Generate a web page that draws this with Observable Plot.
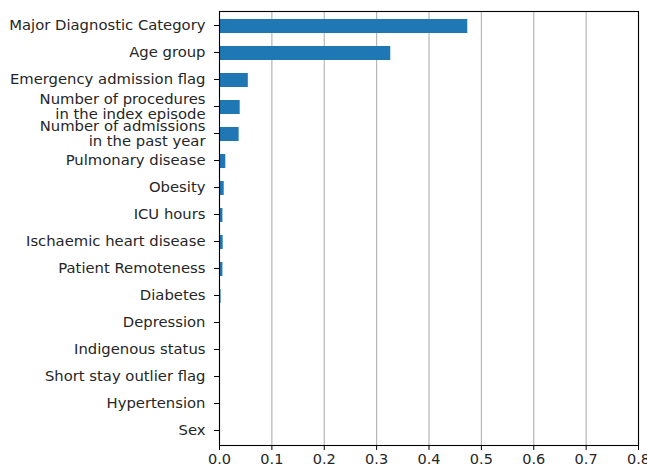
<!DOCTYPE html>
<html>
<head>
<meta charset="utf-8">
<script src="https://cdn.jsdelivr.net/npm/d3@7"></script>
<script src="https://cdn.jsdelivr.net/npm/@observablehq/plot@0.6"></script>
<style>
  html, body { margin: 0; padding: 0; background: #fff; }
  #chart svg { display: block; }
</style>
</head>
<body>
<div id="chart"></div>
<script>
const features = [
  "Major Diagnostic Category",
  "Age group",
  "Emergency admission flag",
  "Number of procedures\nin the index episode",
  "Number of admissions\nin the past year",
  "Pulmonary disease",
  "Obesity",
  "ICU hours",
  "Ischaemic heart disease",
  "Patient Remoteness",
  "Diabetes",
  "Depression",
  "Indigenous status",
  "Short stay outlier flag",
  "Hypertension",
  "Sex"
];
const importance = [0.474, 0.327, 0.055, 0.0395, 0.0375, 0.012, 0.009, 0.0065, 0.007, 0.0065, 0.003, 0.0005, 0.0002, 0.0001, 0.0001, 0.0001];
const xTicks = [0, 0.1, 0.2, 0.3, 0.4, 0.5, 0.6, 0.7, 0.8];

const data = features.map((f, i) => ({feature: f, value: importance[i]}));

const chart = Plot.plot({
  width: 647,
  height: 470,
  marginLeft: 219,
  marginRight: 9,
  marginTop: 11,
  marginBottom: 25,
  style: {fontFamily: "DejaVu Sans", fontSize: "14.8px", color: "#000", background: "#fff"},
  x: {domain: [0, 0.8], ticks: xTicks, tickFormat: d3.format(".1f"), grid: false, label: null},
  y: {domain: features, paddingInner: 0.5, paddingOuter: 0.25, label: null},
  marks: [
    Plot.ruleX(xTicks, {stroke: "#b0b0b0", strokeWidth: 1.1, strokeOpacity: 1}),
    Plot.barX(data, {x: "value", y: "feature", fill: "#1f77b4"}),
    Plot.axisX({ticks: xTicks, tickFormat: d3.format(".1f"), tickSize: 5, tickPadding: 3, label: null, fontSize: 14.5, fill: "#262626"}),
    Plot.axisY({tickSize: 5, tickPadding: 9, dy: -1, label: null, fontSize: 14.8, fill: "#262626", lineHeight: 1.02}),
    Plot.frame({stroke: "#000", strokeWidth: 1.1})
  ]
});
document.getElementById("chart").appendChild(chart);
</script>
</body>
</html>
